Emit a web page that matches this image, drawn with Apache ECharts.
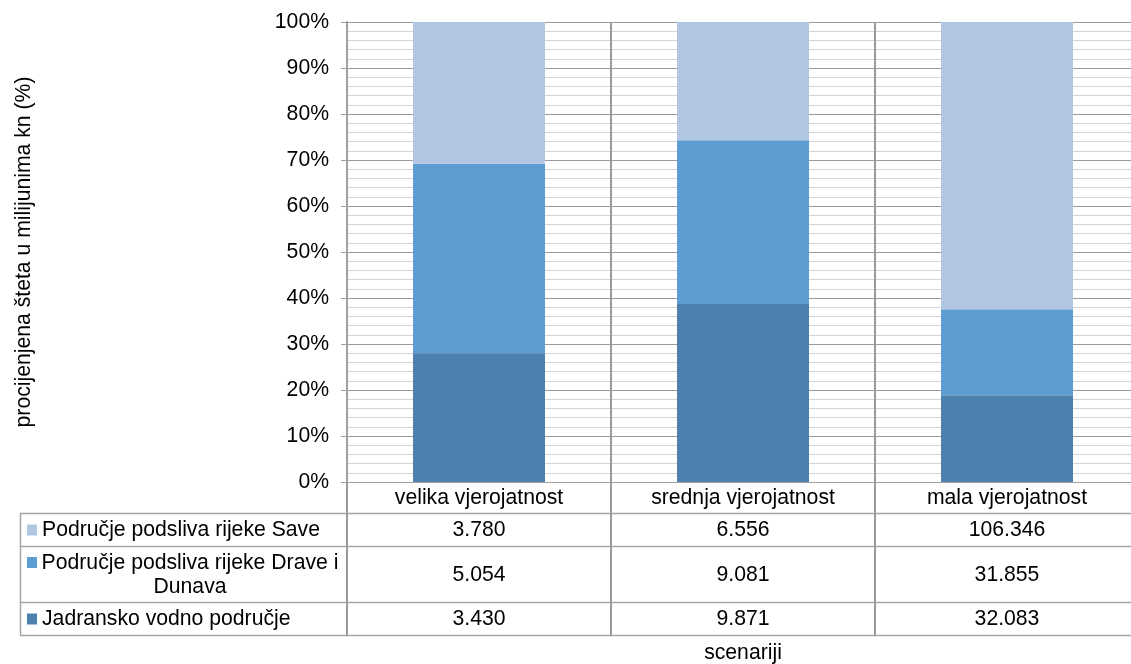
<!DOCTYPE html>
<html><head><meta charset="utf-8">
<script src="https://cdn.jsdelivr.net/npm/echarts@6/dist/echarts.min.js"></script>
<style>html,body{margin:0;padding:0;background:#fff;overflow:hidden}#c{width:1140px;height:664px}</style>
</head><body><div id="c"></div>
<script>
// ---- data ----
const categories = ['velika vjerojatnost', 'srednja vjerojatnost', 'mala vjerojatnost'];
const nameSave = 'Područje podsliva rijeke Save';
const nameDrava = 'Područje podsliva rijeke Drave i Dunava';
const nameJadran = 'Jadransko vodno područje';
const saveValues = [3780, 6556, 106346];
const dravaValues = [5054, 9081, 31855];
const jadranValues = [3430, 9871, 32083];
const yTickLabels = ['0%','10%','20%','30%','40%','50%','60%','70%','80%','90%','100%'];
const yTitle = 'procijenjena šteta u milijunima kn (%)';
const xTitle = 'scenariji';

// ---- derived ----
const totals = categories.map((c, i) => saveValues[i] + dravaValues[i] + jadranValues[i]);
const pct = arr => arr.map((v, i) => v / totals[i] * 100);
const fmt = v => String(v).replace(/\B(?=(\d{3})+(?!\d))/g, '.');

const colSave = '#B0C6E3', colDrava = '#5E9DD2', colJadran = '#4E80AE';
const FONT = 'Liberation Sans, Arial, sans-serif';
const FS = 21.2;

const chart = echarts.init(document.getElementById('c'), null, {renderer: 'canvas', width: 1140, height: 664});
const gridLeft = 347, gridTop = 22, gridW = 792, gridH = 460;

chart.setOption({
  animation: false,
  backgroundColor: '#fff',
  textStyle: {fontFamily: FONT},
  grid: {left: gridLeft, top: gridTop, width: gridW, height: gridH, containLabel: false, outerBoundsMode: 'none'},
  xAxis: {
    type: 'category', data: categories,
    axisLine: {show: true, lineStyle: {color: '#a0a0a0', width: 1}},
    axisTick: {show: false},
    axisLabel: {color: '#000', fontSize: FS, fontFamily: FONT, margin: 6, interval: 0},
    splitLine: {show: true, lineStyle: {color: '#9a9a9a', width: 2}},
    name: xTitle, nameLocation: 'middle', nameGap: 161,
    nameTextStyle: {color: '#000', fontSize: FS, fontFamily: FONT}
  },
  yAxis: {
    type: 'value', min: 0, max: 100, interval: 10,
    axisLine: {show: true, lineStyle: {color: '#a0a0a0', width: 2}},
    axisTick: {show: true, length: 6, lineStyle: {color: '#a0a0a0'}},
    axisLabel: {color: '#000', fontSize: FS, fontFamily: FONT, margin: 18,
      formatter: v => yTickLabels[Math.round(v / 10)]},
    splitLine: {show: true, lineStyle: {color: '#9a9a9a', width: 1}},
    minorTick: {show: false, splitNumber: 5},
    minorSplitLine: {show: true, lineStyle: {color: '#d4d4d4', width: 1}},
    name: yTitle, nameLocation: 'middle', nameRotate: 90, nameGap: 312,
    nameTextStyle: {color: '#000', fontSize: FS, fontFamily: FONT}
  },
  series: [
    {name: nameJadran, type: 'bar', stack: 's', data: pct(jadranValues), barWidth: 132, itemStyle: {color: colJadran}},
    {name: nameDrava, type: 'bar', stack: 's', data: pct(dravaValues), barWidth: 132, itemStyle: {color: colDrava}},
    {name: nameSave, type: 'bar', stack: 's', data: pct(saveValues), barWidth: 132, itemStyle: {color: colSave}}
  ]
});

// ---- data table below the plot ----
const cx = categories.map(c => chart.convertToPixel({xAxisIndex: 0}, c));
const band = cx[1] - cx[0];
const bounds = [cx[0] - band / 2].concat(cx.map(x => x + band / 2));
const axisY = chart.convertToPixel({yAxisIndex: 0}, 0);
const rowB = [513, 546, 602, 635];
const tableLeft = 20, tableRight = 1140;
const lineCol = '#a6a6a6';
const g = [];
rowB.forEach(y => g.push({type: 'line', silent: true, shape: {x1: tableLeft, y1: y + 0.5, x2: tableRight, y2: y + 0.5}, style: {stroke: lineCol, lineWidth: 1.5}}));
g.push({type: 'line', silent: true, shape: {x1: tableLeft + 0.5, y1: rowB[0], x2: tableLeft + 0.5, y2: rowB[3]}, style: {stroke: lineCol, lineWidth: 1.5}});
bounds.forEach(x => g.push({type: 'line', silent: true, shape: {x1: x, y1: axisY, x2: x, y2: rowB[3] + 1}, style: {stroke: '#9a9a9a', lineWidth: 2}}));

const rows = [
  {name: nameSave, color: colSave, values: saveValues, lines: [nameSave]},
  {name: nameDrava, color: colDrava, values: dravaValues, lines: ['Područje podsliva rijeke Drave i', 'Dunava']},
  {name: nameJadran, color: colJadran, values: jadranValues, lines: [nameJadran]}
];
rows.forEach((r, i) => {
  const top = rowB[i], bot = rowB[i + 1], mid = (top + bot) / 2;
  const lh = 24;
  const firstY = mid - (r.lines.length - 1) * lh / 2;
  g.push({type: 'rect', silent: true, shape: {x: 27, y: firstY - 5, width: 10, height: 11}, style: {fill: r.color}});
  if (r.lines.length === 1) {
    g.push({type: 'text', silent: true, style: {x: 42, y: firstY + 1, text: r.lines[0], fill: '#000', font: FS + 'px ' + FONT, textAlign: 'left', textVerticalAlign: 'middle'}});
  } else {
    g.push({type: 'text', silent: true, style: {x: 190, y: mid + 1, text: r.lines.join('\n'), lineHeight: lh, fill: '#000', font: FS + 'px ' + FONT, textAlign: 'center', textVerticalAlign: 'middle', align: 'center', verticalAlign: 'middle'}});
  }
  r.values.forEach((v, j) => {
    g.push({type: 'text', silent: true, style: {x: cx[j], y: mid + 1, text: fmt(v), fill: '#000', font: FS + 'px ' + FONT, textAlign: 'center', textVerticalAlign: 'middle'}});
  });
});
chart.setOption({graphic: g});
</script></body></html>
